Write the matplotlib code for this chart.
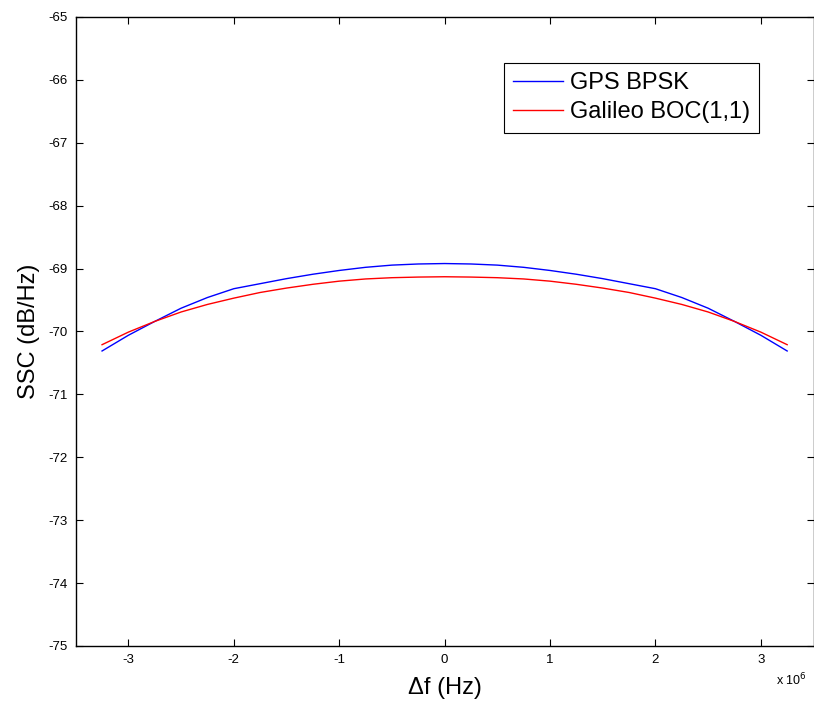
import matplotlib
matplotlib.use("Agg")
import matplotlib.pyplot as plt
from matplotlib.ticker import FuncFormatter

plt.rcParams['font.family'] = ['Liberation Sans', 'DejaVu Sans']
plt.rcParams['axes.unicode_minus'] = False

# Frequency offset (MHz) and SSC values (dB/Hz)
freq_mhz = [-3.25, -3.0, -2.75, -2.5, -2.25, -2.0, -1.75, -1.5, -1.25, -1.0, -0.75, -0.5, -0.25, 0.0,
            0.25, 0.5, 0.75, 1.0, 1.25, 1.5, 1.75, 2.0, 2.25, 2.5, 2.75, 3.0, 3.25]
gps_bpsk = [-70.31, -70.06, -69.84, -69.63, -69.46, -69.32, -69.24, -69.16, -69.09, -69.03, -68.98, -68.945, -68.927, -68.92,
            -68.927, -68.945, -68.98, -69.03, -69.09, -69.16, -69.24, -69.32, -69.46, -69.63, -69.84, -70.06, -70.31]
galileo_boc = [-70.21, -70.01, -69.84, -69.69, -69.57, -69.47, -69.38, -69.31, -69.25, -69.20, -69.165, -69.145, -69.135, -69.13,
               -69.135, -69.145, -69.165, -69.20, -69.25, -69.31, -69.38, -69.47, -69.57, -69.69, -69.84, -70.01, -70.21]
series_labels = ["GPS BPSK", "Galileo BOC(1,1)"]
x_ticks = [-3, -2, -1, 0, 1, 2, 3]
y_ticks = list(range(-75, -64))

freq_hz = [f * 1e6 for f in freq_mhz]

fig = plt.figure(figsize=(8.14, 7.04), dpi=100)
ax = fig.add_axes([0.093, 0.0824, 0.9064, 0.8935])

ax.plot(freq_hz, gps_bpsk, color='#0000ff', lw=1.0, label=series_labels[0])
ax.plot(freq_hz, galileo_boc, color='#ff0000', lw=1.0, label=series_labels[1])

ax.set_xlim(-3.5e6, 3.5e6)
ax.set_ylim(-75, -65)
ax.set_xticks([t * 1e6 for t in x_ticks])
ax.xaxis.set_major_formatter(FuncFormatter(lambda v, p: f"{v/1e6:g}"))
ax.set_yticks(y_ticks)

ax.tick_params(direction='in', length=5, width=0.8, top=True, right=True,
               labelsize=9.5, pad=6)
for s in ax.spines.values():
    s.set_linewidth(1.0)

ax.set_xlabel("Δf (Hz)", fontsize=17, labelpad=8)
ax.set_ylabel("SSC (dB/Hz)", fontsize=17, labelpad=6)

fig.text(0.953, 0.022, r"x 10$^{6}$", fontsize=9, ha='left', va='bottom')

leg = ax.legend(loc='upper left', bbox_to_anchor=(0.580, 0.927), fontsize=17,
                frameon=True, fancybox=False, edgecolor='black', framealpha=1,
                handlelength=2.1, handletextpad=0.3, borderpad=0.4, labelspacing=0.3,
                borderaxespad=0)
leg.get_frame().set_linewidth(0.8)

fig.savefig("out.png", dpi=100)
